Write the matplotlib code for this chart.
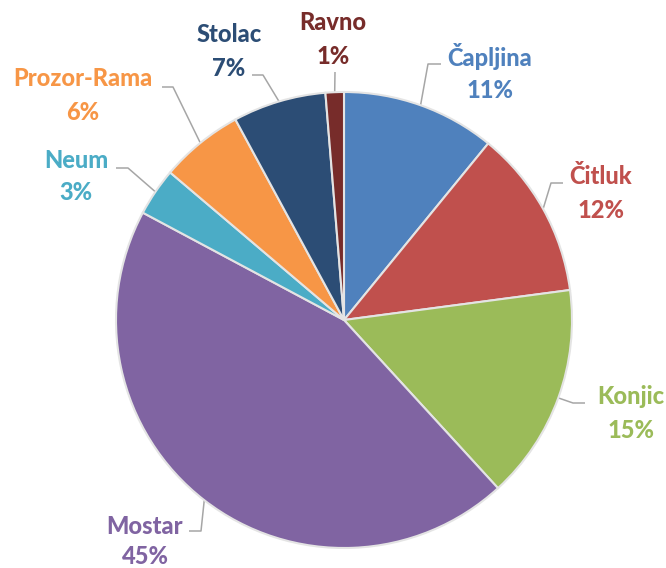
import matplotlib
matplotlib.use("Agg")
import matplotlib.pyplot as plt
import numpy as np

# ---- data ----
municipalities = ['Čapljina', 'Čitluk', 'Konjic', 'Mostar', 'Neum', 'Prozor-Rama', 'Stolac', 'Ravno']
shares = [10.9, 12.0, 15.3, 44.6, 3.4, 5.9, 6.6, 1.3]
colors = ['#4F81BD', '#C0504D', '#9BBB59', '#8064A2', '#4BACC6', '#F79646', '#2C4D75', '#772C2A']

# ---- layout (pixel positions of labels, top-left origin) ----
W, H = 666, 568
label_pos = [(490, 57, 90), (601, 177, 210), (631, 397, 430), (145, 527, 556),
             (76, 160, 193), (83, 78, 112), (229, 35, 68), (333, 23, 57)]
leader_elbow = [(428, 64), (551, 183), (573, 403), (201, 531),
                (128, 168), (173, 87), (263, 75), (335, 72)]
leader_end = [(441, 64), (563, 183), (585, 403), (189, 531),
              (116, 168), (162, 87), (252, 75), (335, 72)]

fig = plt.figure(figsize=(W / 100, H / 100), dpi=100)
ax = fig.add_axes([0, 0, 1, 1])
cx, cy, r = 344, H - 320, 228
wedges, _ = ax.pie(shares, colors=colors, startangle=90, counterclock=False,
                   center=(cx, cy), radius=r, frame=True,
                   wedgeprops=dict(edgecolor='#e4e4e4', linewidth=1.5))
ax.set_xlim(0, W)
ax.set_ylim(0, H)
ax.set_aspect('equal')
ax.axis('off')

total = sum(shares)
font = dict(family=['Lato', 'DejaVu Sans'], fontsize=17, fontweight='black')
for w, name, val, col, (tx, ny, py), el, en in zip(wedges, municipalities, shares, colors,
                                                    label_pos, leader_elbow, leader_end):
    th = np.deg2rad((w.theta1 + w.theta2) / 2)
    ex, ey = cx + r * np.cos(th), cy + r * np.sin(th)
    ax.plot([ex, el[0], en[0]], [ey, H - el[1], H - en[1]], color='#a6a6a6', lw=1.1,
            solid_capstyle='butt', zorder=0.5)
    ax.text(tx, H - ny, name, color=col, ha='center', va='center', **font)
    ax.text(tx, H - py, f"{round(val / total * 100)}%", color=col, ha='center', va='center', **font)

fig.savefig('out.png', dpi=100)
